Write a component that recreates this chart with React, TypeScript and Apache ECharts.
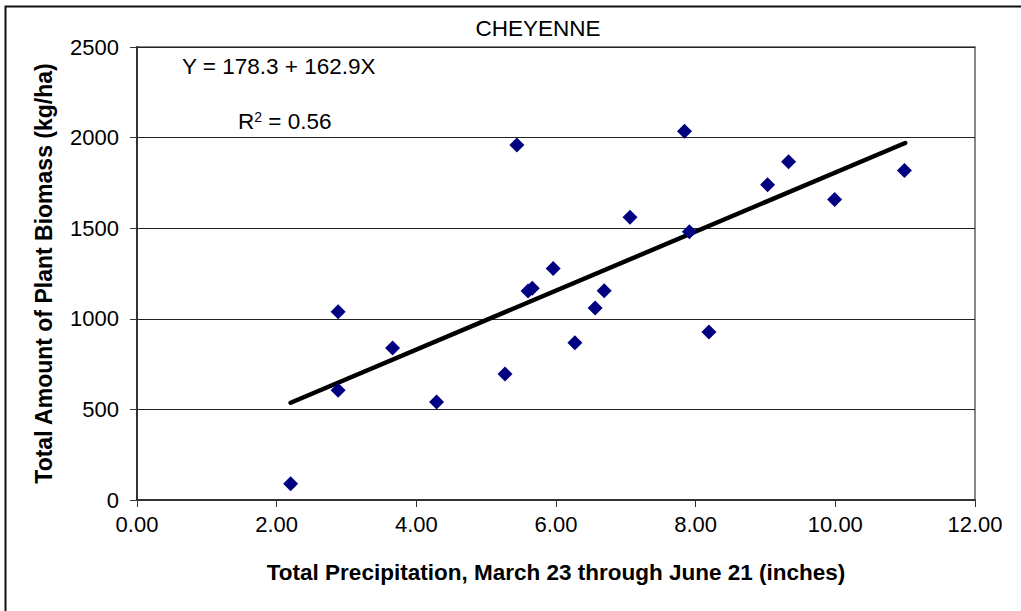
import React, { useEffect, useRef } from "react";
import * as echarts from "echarts";

const precipitation = [2.2, 2.88, 2.88, 3.66, 4.29, 5.27, 5.44, 5.6, 5.66, 5.96, 6.27, 6.56, 6.69, 7.06, 7.84, 7.91, 8.19, 9.03, 9.33, 9.99, 10.99];
const biomass = [90, 1039, 605, 839, 541, 695, 1959, 1153, 1168, 1277, 868, 1060, 1155, 1560, 2035, 1481, 927, 1740, 1867, 1659, 1818];
const trendIntercept = 178.3;
const trendSlope = 162.9;
const trendRange = [2.2, 11.0];
const titleText = "CHEYENNE";
const xAxisTitle = "Total Precipitation, March 23 through June 21 (inches)";
const yAxisTitle = "Total Amount of Plant Biomass (kg/ha)";

export default function App() {
  const ref = useRef<HTMLDivElement>(null);
  useEffect(() => {
    if (!ref.current) return;
    const chart = echarts.init(ref.current, null, { renderer: "svg" });
    const font = "'Liberation Sans', Arial, sans-serif";
    const points = precipitation.map((x, i) => [x, biomass[i]]);
    const trend = trendRange.map((x) => [x, trendIntercept + trendSlope * x]);
    chart.setOption({
      animation: false,
      backgroundColor: "#fff",
      textStyle: { fontFamily: font },
      title: {
        text: titleText,
        left: 533,
        top: 12,
        textAlign: "center",
        textStyle: { fontFamily: font, fontSize: 22.5, fontWeight: "normal", color: "#000" },
      },
      grid: {
        left: 137,
        right: 46,
        top: 47,
        bottom: 111,
        show: true,
        borderColor: "#888",
        borderWidth: 2,
        backgroundColor: "transparent",
      },
      xAxis: {
        type: "value",
        min: 0,
        max: 12,
        interval: 2,
        name: xAxisTitle,
        nameLocation: "middle",
        nameGap: 61,
        nameTextStyle: { fontFamily: font, fontSize: 22.5, fontWeight: "bold", color: "#000" },
        axisLine: { show: true, lineStyle: { color: "#333", width: 2 } },
        axisTick: { show: true, inside: false, length: 7, lineStyle: { color: "#333", width: 1 } },
        axisLabel: {
          formatter: (v: number) => v.toFixed(2),
          fontFamily: font,
          fontSize: 22,
          color: "#000",
          margin: 13,
        },
        splitLine: { show: false },
      },
      yAxis: {
        type: "value",
        min: 0,
        max: 2500,
        interval: 500,
        name: yAxisTitle,
        nameLocation: "middle",
        nameGap: 82,
        nameRotate: 90,
        nameTextStyle: { fontFamily: font, fontSize: 23, fontWeight: "bold", color: "#000" },
        axisLine: { show: true, lineStyle: { color: "#333", width: 2 } },
        axisTick: { show: true, inside: false, length: 7, lineStyle: { color: "#333", width: 1 } },
        axisLabel: { formatter: (v: number) => String(v), fontFamily: font, fontSize: 22, color: "#000", margin: 18 },
        splitLine: { show: true, lineStyle: { color: "#222", width: 1 } },
      },
      series: [
        {
          type: "line",
          data: trend,
          showSymbol: false,
          symbol: "none",
          lineStyle: { color: "#000", width: 4.5, cap: "round" },
          z: 2,
        },
        {
          type: "scatter",
          data: points,
          symbol: "diamond",
          symbolSize: 15,
          itemStyle: { color: "#000080", opacity: 1 },
          z: 3,
        },
      ],
      graphic: [
        {
          type: "rect",
          shape: { x: 5.5, y: 6.5, width: 1030, height: 620 },
          style: { fill: "none", stroke: "#111", lineWidth: 2 },
          silent: true,
        },
        {
          type: "text",
          left: 182,
          top: 55,
          style: { text: "Y = 178.3 + 162.9X", fontFamily: font, fontSize: 22.5, fill: "#000" },
        },
        {
          type: "text",
          left: 238,
          top: 110,
          style: {
            text: "R{sup|2} = 0.56",
            fontFamily: font,
            fontSize: 22.5,
            fill: "#000",
            rich: {
              sup: { fontSize: 14, verticalAlign: "top", lineHeight: 14, padding: [0, 0, 10, 0], fontFamily: font, fill: "#000" },
            },
          },
        },
      ],
    });
    return () => chart.dispose();
  }, []);
  return (
    <div
      ref={ref}
      style={{ position: "fixed", left: 0, top: 0, width: 1021, height: 611 }}
    />
  );
}
